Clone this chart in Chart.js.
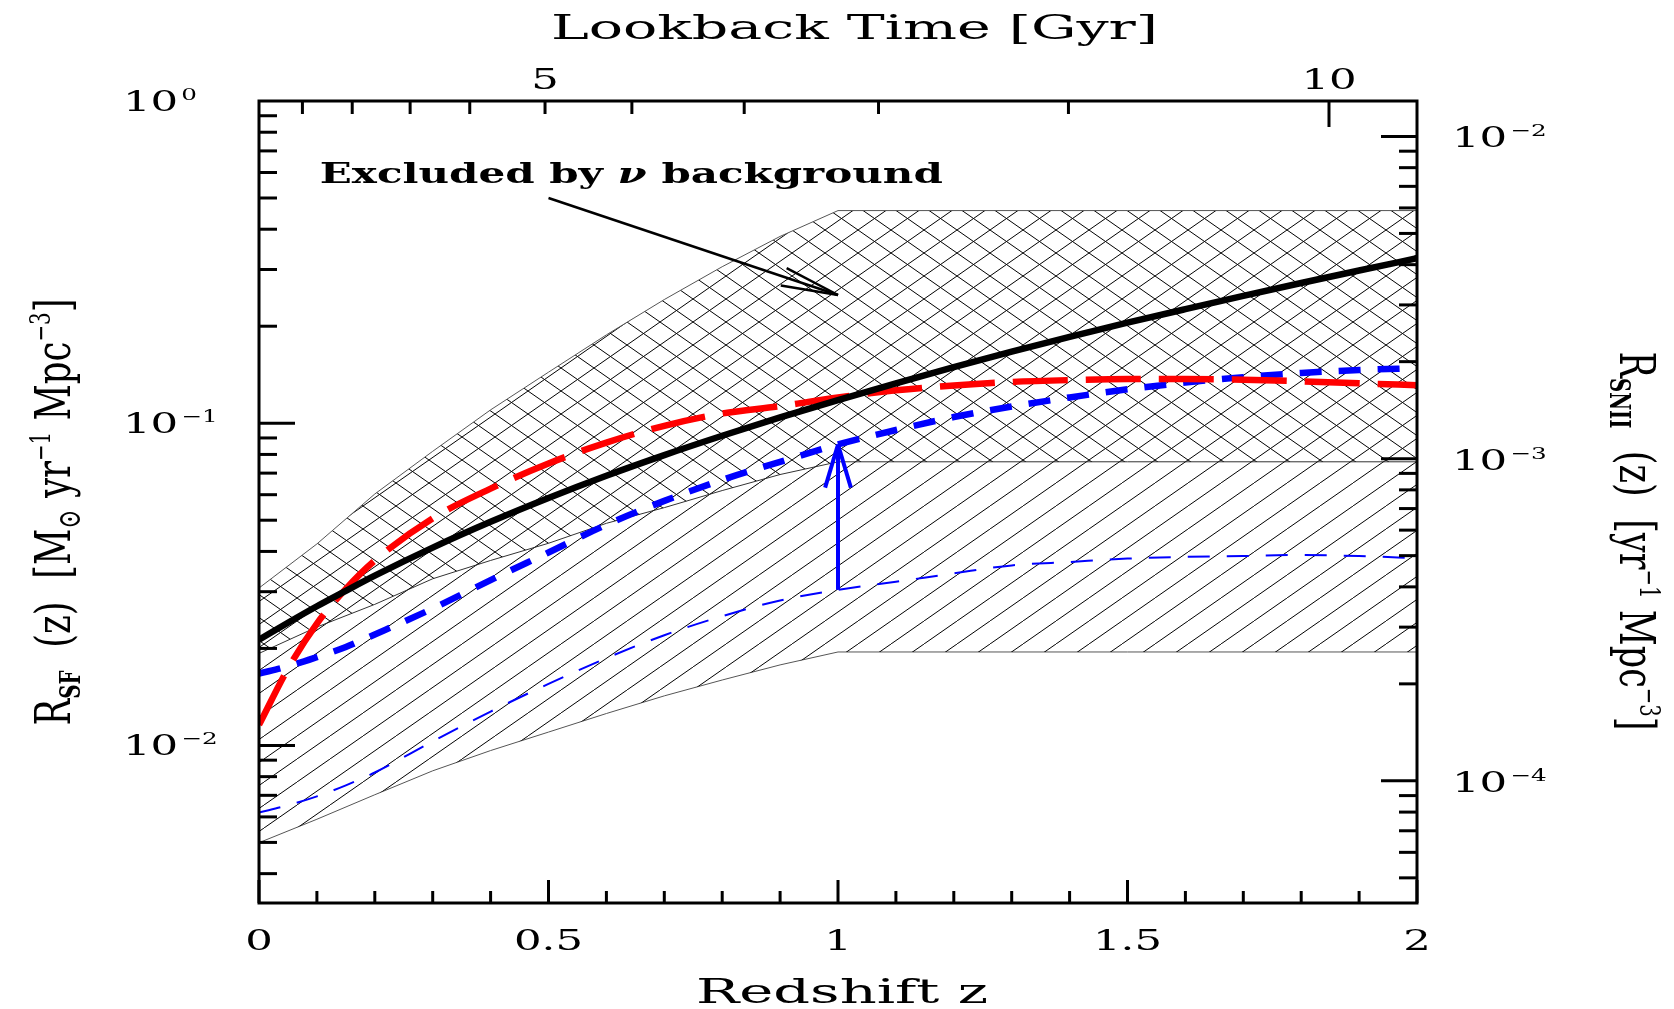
<!DOCTYPE html>
<html>
<head>
<meta charset="utf-8">
<script src="https://cdn.jsdelivr.net/npm/chart.js@4.4.1/dist/chart.umd.min.js"></script>
<style>
  body { margin: 0; background: #fff; }
  canvas { display: block; }
</style>
</head>
<body>
<canvas id="c" width="1674" height="1009"></canvas>
<script>
// redshift grid for the smooth curves
var zCurve = [0, 0.05, 0.1, 0.15, 0.2, 0.3, 0.4, 0.5, 0.6, 0.7, 0.8, 0.9, 1.0, 1.1, 1.2, 1.3, 1.4, 1.5, 1.6, 1.7, 1.8, 1.9, 2.0];
var sfrBlack = [0.02128, 0.02404, 0.02704, 0.03020, 0.03365, 0.04111, 0.04943, 0.05861, 0.06871, 0.07962, 0.09141, 0.1042, 0.1180, 0.1330, 0.1493, 0.1667, 0.1854, 0.2051, 0.2259, 0.2483, 0.2723, 0.2979, 0.3251];
var sfrRed = [0.01159, 0.01730, 0.02388, 0.03062, 0.03750, 0.05070, 0.06266, 0.07499, 0.08710, 0.09817, 0.1072, 0.1130, 0.1202, 0.1265, 0.1309, 0.1343, 0.1361, 0.1371, 0.1371, 0.1365, 0.1349, 0.1330, 0.1312];
var sfrBlueThick = [0.0167, 0.0176, 0.0188, 0.0202, 0.0221, 0.0266, 0.0326, 0.0397, 0.0484, 0.0574, 0.0667, 0.07586, 0.0859, 0.09528, 0.1045, 0.1127, 0.1202, 0.1274, 0.1337, 0.1390, 0.1432, 0.1462, 0.1483];
var sfrBlueThin = [0.00619, 0.00652, 0.00695, 0.00752, 0.00824, 0.0103, 0.01274, 0.01552, 0.01866, 0.02198, 0.02518, 0.02818, 0.0304, 0.0322, 0.0342, 0.0362, 0.0371, 0.0380, 0.0385, 0.0387, 0.0390, 0.0387, 0.0381];

// hatched bands
var zBand = [0, 0.1, 0.2, 0.3, 0.4, 0.5, 0.6, 0.7, 0.8, 0.9, 1.0, 2.0];
var nuExclHigh = [0.0308, 0.0422, 0.0603, 0.0818, 0.110, 0.144, 0.188, 0.242, 0.306, 0.380, 0.457, 0.457];
var nuExclLow = [0.0193, 0.0233, 0.0274, 0.0329, 0.0375, 0.0424, 0.0489, 0.0547, 0.0618, 0.0693, 0.0759, 0.0759];
var allowLow = [0.00499, 0.0059, 0.00703, 0.00834, 0.00964, 0.0110, 0.01256, 0.01425, 0.01596, 0.01778, 0.0195, 0.0195];

// axes
var zMinorTicks = [0, 0.1, 0.2, 0.3, 0.4, 0.5, 0.6, 0.7, 0.8, 0.9, 1.0, 1.1, 1.2, 1.3, 1.4, 1.5, 1.6, 1.7, 1.8, 1.9, 2.0];
var zMajorTicks = [0, 0.5, 1, 1.5, 2];
var zTickLabels = ['0', '0.5', '1', '1.5', '2'];
var lookbackGyr = [1, 2, 3, 4, 5, 6, 7, 8, 9, 10];
var lookbackZ = [0.075, 0.161, 0.261, 0.364, 0.494, 0.644, 0.838, 1.070, 1.398, 1.848];
var lookbackLabels = [5, 10];
var leftPowers = [0, -1, -2];
var rightPowers = [-2, -3, -4];
var yMin = 0.003243, yMax = 1;
var snPerSf = 0.012882; // R_SNII / R_SF (right axis conversion)

// annotations
var arrowZ = 1.0;
var noteFrom = [0.5, 0.50];
var noteTo = [1.0, 0.25];
var noteText = [0.105, 0.558];

function pts(xs, ys) {
    var out = [];
    for (var i = 0; i < xs.length; i++) out.push({x: xs[i], y: ys[i]});
    return out;
}

var ctx = document.getElementById('c').getContext('2d');

function hatch(cross) {
    var c = document.createElement('canvas');
    c.width = 33; c.height = 23;
    var g = c.getContext('2d');
    g.strokeStyle = '#000';
    g.lineWidth = 1;
    [-33, 0, 33].forEach(function (dx) {
        g.beginPath(); g.moveTo(dx, 23); g.lineTo(dx + 33, 0); g.stroke();
        if (cross) { g.beginPath(); g.moveTo(dx, 0); g.lineTo(dx + 33, 23); g.stroke(); }
    });
    return ctx.createPattern(c, 'repeat');
}

var SERIF = '"DejaVu Serif", "Liberation Serif", serif';

// text made of runs (sub/superscripts), scaled along to fit a length
function drawRuns(c, list, ox, oy, angle, target, across, align) {
    var tot = 0;
    list.forEach(function (r) { c.font = r.f; r.w = c.measureText(r.t).width; tot += r.w; });
    var k = target ? target / tot : 1;
    c.save();
    c.translate(ox, oy);
    c.rotate(angle);
    c.scale(k, across);
    c.textAlign = 'left';
    c.textBaseline = 'alphabetic';
    var cx = align === 'center' ? -tot / 2 : 0;
    list.forEach(function (r) {
        c.font = r.f;
        c.fillText(r.t, cx, r.dy || 0);
        cx += r.w;
    });
    c.restore();
}

function stretch(c, str, x, y, font, sx, align) {
    c.save();
    c.font = font;
    var w = c.measureText(str).width * sx;
    var left = align === 'center' ? x - w / 2 : x;
    c.translate(left, y);
    c.scale(sx, 1);
    c.textAlign = 'left';
    c.textBaseline = 'alphabetic';
    c.fillText(str, 0, 0);
    c.restore();
    return w;
}

function powLabel(c, p, x, y) {
    var w = stretch(c, '10', x, y, '28px ' + SERIF, 1.55, 'left');
    var s = p === 0 ? '0' : '\u2212' + (-p);
    stretch(c, s, x + w + 3, y - 11, '17px ' + SERIF, 1.45, 'left');
}

function seg(c, x1, y1, x2, y2) {
    c.beginPath(); c.moveTo(x1, y1); c.lineTo(x2, y2); c.stroke();
}

function arrowHead(c, x1, y1, x2, y2, len, ang) {
    var a = Math.atan2(y1 - y2, x1 - x2);
    seg(c, x2, y2, x2 + len * Math.cos(a + ang), y2 + len * Math.sin(a + ang));
    seg(c, x2, y2, x2 + len * Math.cos(a - ang), y2 + len * Math.sin(a - ang));
}

var decor = {
    id: 'decor',
    afterDraw: function (chart) {
        var c = chart.ctx, a = chart.chartArea, s = chart.scales;
        var x = s.x, x2 = s.x2, y = s.y, y2 = s.y2;
        c.save();

        // blue arrow from thin to thick curve at z = 1
        var iz = zCurve.indexOf(arrowZ);
        var bx = x.getPixelForValue(arrowZ);
        var by0 = y.getPixelForValue(sfrBlueThin[iz]);
        var by1 = y.getPixelForValue(sfrBlueThick[iz]);
        c.strokeStyle = '#0000ff';
        c.lineWidth = 4;
        c.lineCap = 'butt';
        seg(c, bx, by0, bx, by1);
        arrowHead(c, bx, by0, bx, by1, 45, 0.29);

        // annotation arrow
        var ax0 = x.getPixelForValue(noteFrom[0]), ay0 = y.getPixelForValue(noteFrom[1]);
        var ax1 = x.getPixelForValue(noteTo[0]), ay1 = y.getPixelForValue(noteTo[1]);
        c.strokeStyle = '#000';
        c.lineWidth = 2.5;
        seg(c, ax0, ay0, ax1, ay1);
        arrowHead(c, ax0, ay0, ax1, ay1, 58, 0.16);
        c.fillStyle = '#000';
        drawRuns(c, [
            {t: 'Excluded by ', f: 'bold 27px ' + SERIF},
            {t: '\u03bd', f: 'italic bold 27px ' + SERIF},
            {t: ' background', f: 'bold 27px ' + SERIF}
        ], x.getPixelForValue(noteText[0]), y.getPixelForValue(noteText[1]), 0, 623, 1, 'left');

        // tick marks
        c.strokeStyle = '#000';
        c.lineWidth = 3;
        zMinorTicks.forEach(function (z) {
            var px = x.getPixelForValue(z);
            var len = zMajorTicks.indexOf(z) >= 0 ? 23 : 12;
            seg(c, px, a.bottom, px, a.bottom - len);
        });
        lookbackZ.forEach(function (z, i) {
            var px = x2.getPixelForValue(z);
            var len = lookbackGyr[i] === 10 ? 26 : 13;
            seg(c, px, a.top, px, a.top + len);
        });
        [[y, a.left, 1], [y2, a.right, -1]].forEach(function (e) {
            var sc = e[0];
            for (var k = -5; k <= 0; k++) {
                for (var m = 1; m <= 9; m++) {
                    var v = m * Math.pow(10, k);
                    if (v < sc.min * 1.0001 || v > sc.max * 0.9999) continue;
                    var py = sc.getPixelForValue(v);
                    var len = m === 1 ? 36 : 18;
                    seg(c, e[1], py, e[1] + e[2] * len, py);
                }
            }
        });

        // frame
        c.lineWidth = 3;
        c.strokeRect(a.left, a.top, a.right - a.left, a.bottom - a.top);

        // tick labels
        c.fillStyle = '#000';
        zMajorTicks.forEach(function (z, i) {
            stretch(c, zTickLabels[i], x.getPixelForValue(z), a.bottom + 47, '28px ' + SERIF, 1.55, 'center');
        });
        lookbackLabels.forEach(function (g) {
            var z = lookbackZ[lookbackGyr.indexOf(g)];
            stretch(c, String(g), x2.getPixelForValue(z), a.top - 12, '28px ' + SERIF, 1.55, 'center');
        });
        leftPowers.forEach(function (p) {
            powLabel(c, p, 123, y.getPixelForValue(Math.pow(10, p)) + 10);
        });
        rightPowers.forEach(function (p) {
            powLabel(c, p, 1452, y2.getPixelForValue(Math.pow(10, p)) + 11);
        });

        // axis titles
        var big = '34px ' + SERIF, sub = 'bold 19px ' + SERIF, sup = '19px ' + SERIF;
        drawRuns(c, [{t: 'Lookback Time [Gyr]', f: '33px ' + SERIF}], 551, 39, 0, 607, 1, 'left');
        drawRuns(c, [{t: 'Redshift z', f: big}], 696, 1003, 0, 292, 1, 'left');
        drawRuns(c, [
            {t: 'R', f: big}, {t: 'SF', f: sub, dy: 7}, {t: '  (z)  [M', f: big},
            {t: '\u2299', f: '22px ' + SERIF, dy: 7}, {t: ' yr', f: big}, {t: '\u22121', f: sup, dy: -14},
            {t: ' Mpc', f: big}, {t: '\u22123', f: sup, dy: -14}, {t: ']', f: big}
        ], 70, 512, -Math.PI / 2, 427, 1.45, 'center');
        drawRuns(c, [
            {t: 'R', f: big}, {t: 'SNII', f: sub, dy: 7}, {t: '  (z)  [yr', f: big},
            {t: '\u22121', f: sup, dy: -14}, {t: ' Mpc', f: big}, {t: '\u22123', f: sup, dy: -14}, {t: ']', f: big}
        ], 1620, 541, Math.PI / 2, 379, 1.45, 'center');

        c.restore();
    }
};

var chart = new Chart(ctx, {
    type: 'line',
    data: {
        datasets: [{
            label: 'black',
            data: pts(zCurve, sfrBlack),
            borderColor: '#000',
            borderWidth: 6.5,
            cubicInterpolationMode: 'monotone',
            pointRadius: 0,
            fill: false
        }, {
            label: 'red',
            data: pts(zCurve, sfrRed),
            borderColor: '#ff0000',
            borderWidth: 6.5,
            borderDash: [55, 18],
            cubicInterpolationMode: 'monotone',
            pointRadius: 0,
            fill: false
        }, {
            label: 'blue thick',
            data: pts(zCurve, sfrBlueThick),
            borderColor: '#0000ff',
            borderWidth: 6.5,
            borderDash: [22, 17],
            cubicInterpolationMode: 'monotone',
            pointRadius: 0,
            fill: false
        }, {
            label: 'blue thin',
            data: pts(zCurve, sfrBlueThin),
            borderColor: '#0000ff',
            borderWidth: 2,
            borderDash: [22, 17],
            cubicInterpolationMode: 'monotone',
            pointRadius: 0,
            fill: false
        }, {
            label: 'excluded high',
            data: pts(zBand, nuExclHigh),
            borderColor: '#555',
            borderWidth: 1,
            backgroundColor: hatch(true),
            pointRadius: 0,
            tension: 0,
            fill: '+1'
        }, {
            label: 'excluded low',
            data: pts(zBand, nuExclLow),
            borderColor: '#333',
            borderWidth: 1,
            backgroundColor: hatch(false),
            pointRadius: 0,
            tension: 0,
            fill: '+1'
        }, {
            label: 'allowed low',
            data: pts(zBand, allowLow),
            borderColor: '#555',
            borderWidth: 1,
            pointRadius: 0,
            tension: 0,
            fill: false
        }]
    },
    options: {
        responsive: false,
        devicePixelRatio: 1,
        animation: false,
        layout: { padding: { left: 259, top: 101, right: 257, bottom: 106 } },
        plugins: { legend: { display: false }, tooltip: { enabled: false } },
        scales: {
            x: { type: 'linear', min: 0, max: 2, display: false },
            x2: { type: 'linear', min: 0, max: 2, display: false, position: 'top' },
            y: { type: 'logarithmic', min: yMin, max: yMax, display: false },
            y2: { type: 'logarithmic', min: yMin * snPerSf, max: yMax * snPerSf, display: false, position: 'right' }
        }
    },
    plugins: [decor]
});
</script>
</body>
</html>
